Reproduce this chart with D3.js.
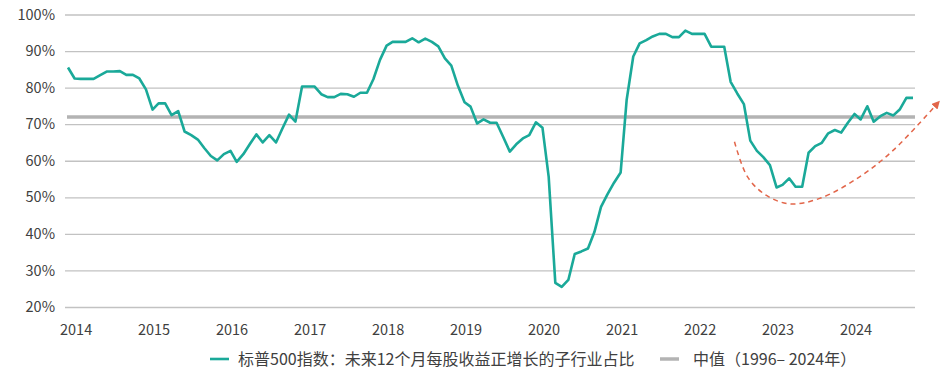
<!DOCTYPE html>
<html>
<head>
<meta charset="utf-8">
<script src="https://cdn.jsdelivr.net/npm/d3@7"></script>
<style>
  html, body { margin: 0; padding: 0; background: #fff; }
  svg { display: block; font-family: "Noto Sans CJK SC", "Noto Sans", sans-serif; }
</style>
</head>
<body>
<div id="chart"></div>
<script>
"use strict";

// monthly share, Jan 2014 onward (%)
const startMonth = new Date(2014, 0, 1)
const shareValues = [
  85.5, 82.5, 82.4, 82.4, 82.4, 83.4, 84.4, 84.4, 84.5, 83.5, 83.5, 82.5,
  79.5, 74.0, 75.7, 75.7, 72.5, 73.6, 68.0, 67.0, 65.8, 63.5, 61.3, 60.1,
  61.8, 62.7, 59.7, 61.8, 64.5, 67.2, 65.0, 67.0, 65.0, 68.8, 72.6, 70.7,
  80.3, 80.3, 80.3, 78.2, 77.4, 77.4, 78.3, 78.2, 77.5, 78.6, 78.6, 82.3,
  87.6, 91.5, 92.5, 92.5, 92.5, 93.5, 92.4, 93.4, 92.5, 91.3, 88.0, 86.0,
  80.5, 76.0, 74.8, 70.2, 71.3, 70.4, 70.4, 66.5, 62.5, 64.5, 66.1, 67.0,
  70.5, 69.0, 55.6, 26.6, 25.5, 27.4, 34.5, 35.2, 36.0, 40.5, 47.4, 50.8,
  54.0, 56.8, 76.6, 88.5, 92.1, 93.0, 94.0, 94.7, 94.7, 93.8, 93.8, 95.6,
  94.7, 94.7, 94.7, 91.2, 91.2, 91.2, 81.6, 78.4, 75.5, 65.5, 62.7, 61.0,
  58.8, 52.7, 53.4, 55.2, 52.9, 52.9, 62.2, 64.0, 64.9, 67.5, 68.4, 67.7,
  70.4, 72.8, 71.3, 74.9, 70.7, 72.2, 73.1, 72.4, 74.1, 77.2, 77.2
]
const medianValue = 72.0

const yTicks = [20, 30, 40, 50, 60, 70, 80, 90, 100]
const yearLabels = [2014, 2015, 2016, 2017, 2018, 2019, 2020, 2021, 2022, 2023, 2024]

// dashed "rebound" arrow, in (month index, %) space
const arrowMonths = [102.6, 104.6, 107.5, 111.1, 115.7, 121.8, 127, 133.7]
const arrowValues = [65.2, 55.5, 50.5, 48.2, 49.7, 55.6, 62.9, 75.6]

const legendLabels = ['标普500指数：未来12个月每股收益正增长的子行业占比', '中值（1996– 2024年）']

const d = {
  WIDTH: 941,
  HEIGHT: 373,
  LEFT: 65,
  RIGHT: 915,
  TOP: 14.5,
  BOTTOM: 307,
  TEAL: '#1aa999',
  GREY: '#b3b3b3',
  GRID: '#c2c2c2',
  TEXT: '#404040',
  ARROW: '#e2664a',
}

const monthDate = i => d3.timeMonth.offset(startMonth, i)
const series = shareValues.map((v, i) => ({ date: monthDate(i), value: v }))

const svg = d3.select('#chart')
  .append('svg')
    .attr('width', d.WIDTH)
    .attr('height', d.HEIGHT)

const x = d3.scaleTime()
  .domain([startMonth, monthDate(shareValues.length - 1)])
  .range([68, 913])

const y = d3.scaleLinear()
  .domain([20, 100])
  .range([d.BOTTOM, d.TOP])

// y axis + gridlines
const yAxisG = svg.append('g')
  .attr('transform', `translate(${d.LEFT},0)`)
  .call(d3.axisLeft(y)
    .tickValues(yTicks)
    .tickSize(-(d.RIGHT - d.LEFT))
    .tickPadding(10)
    .tickFormat(v => v + '%'))

yAxisG.select('.domain').remove()
yAxisG.selectAll('.tick line')
  .attr('stroke', d.GRID)
  .attr('stroke-width', 1.3)
yAxisG.selectAll('.tick text')
  .attr('fill', d.TEXT)
  .attr('font-size', 14.5)
  .attr('font-family', '"Noto Sans CJK SC", sans-serif')

// x labels: sit a little after January, as in the original layout
svg.append('g')
  .selectAll('text')
  .data(yearLabels)
  .join('text')
    .attr('x', yr => x(new Date(yr, 1, 8)))
    .attr('y', 335)
    .attr('text-anchor', 'middle')
    .attr('fill', d.TEXT)
    .attr('font-size', 14.5)
    .text(yr => yr)

// median line
svg.append('line')
  .attr('x1', 67)
  .attr('x2', d.RIGHT)
  .attr('y1', y(medianValue))
  .attr('y2', y(medianValue))
  .attr('stroke', d.GREY)
  .attr('stroke-width', 3.5)

// main series
svg.append('path')
  .datum(series)
  .attr('fill', 'none')
  .attr('stroke', d.TEAL)
  .attr('stroke-width', 2.6)
  .attr('stroke-linejoin', 'round')
  .attr('d', d3.line()
    .x(p => x(p.date))
    .y(p => y(p.value)))

// arrow annotation
svg.append('defs')
  .append('marker')
    .attr('id', 'arrowhead')
    .attr('viewBox', '0 0 10 10')
    .attr('refX', 5)
    .attr('refY', 5)
    .attr('markerWidth', 5.5)
    .attr('markerHeight', 5.5)
    .attr('orient', 'auto')
  .append('path')
    .attr('d', 'M0,0 L10,5 L0,10 z')
    .attr('fill', d.ARROW)

const arrowPts = arrowMonths.map((m, i) => [
  x(d3.timeDay.offset(monthDate(Math.floor(m)), Math.round((m % 1) * 30))),
  y(arrowValues[i])
])

svg.append('path')
  .attr('d', d3.line().curve(d3.curveCatmullRom)(arrowPts))
  .attr('fill', 'none')
  .attr('stroke', d.ARROW)
  .attr('stroke-width', 1.5)
  .attr('stroke-dasharray', '5,4')
  .attr('marker-end', 'url(#arrowhead)')

// legend
const legend = svg.append('g')
  .attr('transform', 'translate(0,359)')

const legendItems = [
  { x: 210, textX: 238, color: d.TEAL, width: 2.6 },
  { x: 660, textX: 693, color: d.GREY, width: 3.5 },
]

legendItems.forEach((item, i) => {
  legend.append('line')
    .attr('x1', item.x)
    .attr('x2', item.x + 19)
    .attr('stroke', item.color)
    .attr('stroke-width', item.width)

  legend.append('text')
    .attr('x', item.textX)
    .attr('y', 5.5)
    .attr('fill', d.TEXT)
    .attr('font-size', 16)
    .text(legendLabels[i])
})
</script>
</body>
</html>
